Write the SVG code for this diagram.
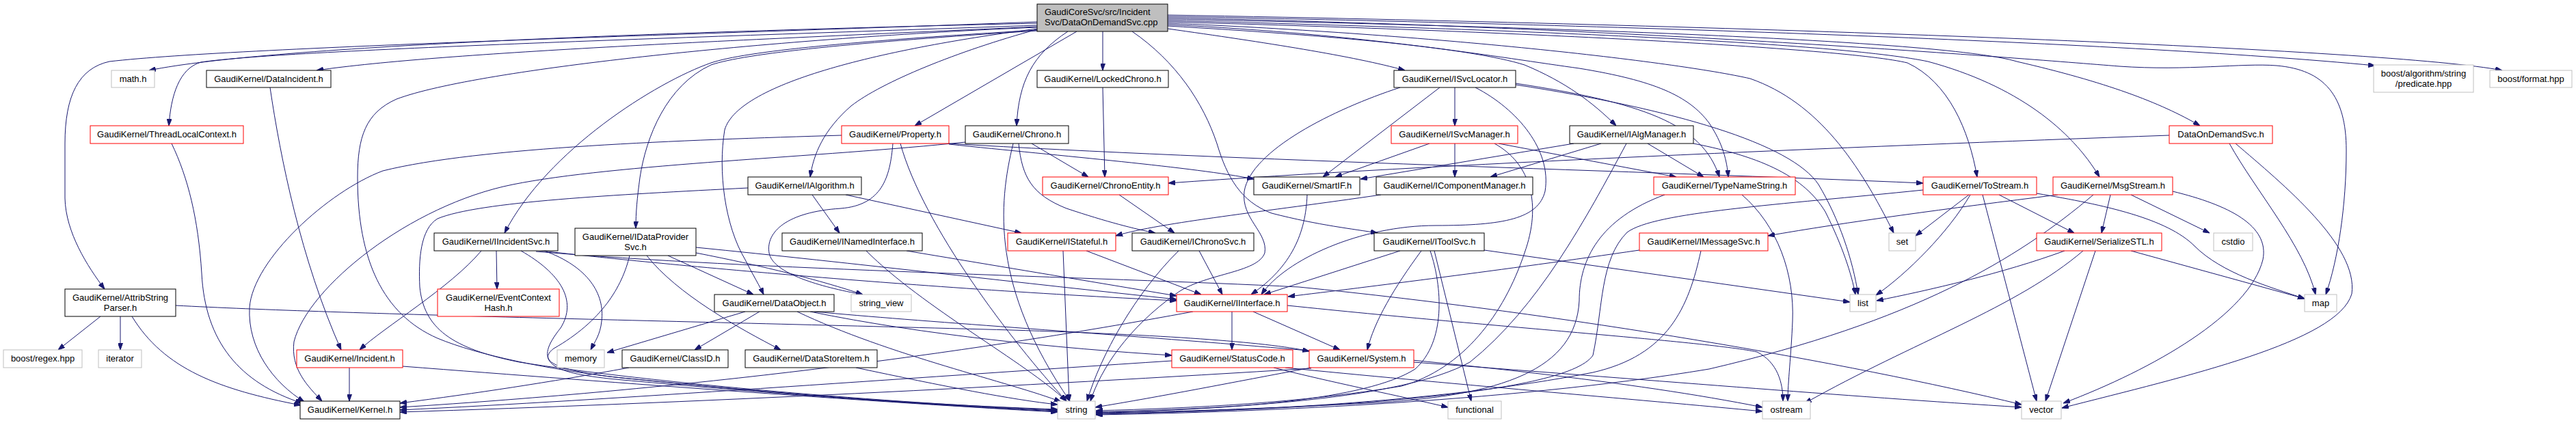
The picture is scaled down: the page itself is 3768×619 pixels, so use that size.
<svg xmlns="http://www.w3.org/2000/svg" width="3768" height="619" viewBox="0 0 3768 619">
<style>
.bg{fill:#ffffff}
.nb{fill:#ffffff;stroke:#000000;stroke-width:1}
.nr{fill:#ffffff;stroke:#ff0000;stroke-width:1}
.ng{fill:#ffffff;stroke:#bfbfbf;stroke-width:1}
.nt{fill:#bfbfbf;stroke:#000000;stroke-width:1}
.t{font-family:"Liberation Sans",Arial,Helvetica,sans-serif;font-size:13px;fill:#000000;text-anchor:middle}
.tl{font-family:"Liberation Sans",Arial,Helvetica,sans-serif;font-size:13px;fill:#000000;text-anchor:start}
.e{fill:none;stroke:#191970;stroke-width:1;marker-end:url(#arr)}
</style>
<defs>
<marker id="arr" viewBox="0 0 10 7" refX="10" refY="3.5" markerWidth="10" markerHeight="7" markerUnits="userSpaceOnUse" orient="auto">
<path d="M0,0 L10,3.5 L0,7 z" fill="#191970" stroke="#191970" stroke-width="1"/>
</marker>
</defs>
<rect class="bg" x="0" y="0" width="3768" height="619"/>
<g id="edges">
<!-- from main file -->
<path class="e" d="M1517,32 C1100,48 350,68 160,90 C115,100 95,140 95,210 L95,290 C96,340 128,390 153,423"/>
<path class="e" d="M1517,34 C1000,46 400,66 218,103"/>
<path class="e" d="M1517,37 C1100,52 420,72 294,91 C262,100 250,140 247,184"/>
<path class="e" d="M1517,39 C1100,58 650,76 463,103"/>
<path class="e" d="M1517,40 C1150,55 700,100 580,145 C535,165 523,200 523,260 C523,380 560,460 640,495 C700,520 800,540 900,552 C1150,578 1350,592 1547,599"/>
<path class="e" d="M1517,44 C1250,60 1090,75 1040,92 C960,120 800,220 738,341"/>
<path class="e" d="M1517,45 C1250,62 1090,78 1040,95 C975,125 945,200 936,260 C932,290 930,310 930,334"/>
<path class="e" d="M1517,42 C1300,70 1080,120 1060,190 C1050,250 1060,330 1090,380 C1100,400 1112,420 1117,431"/>
<path class="e" d="M1517,43 C1400,75 1290,120 1245,155 C1205,190 1190,225 1185,259"/>
<path class="e" d="M1575,46 L1338,184"/>
<path class="e" d="M1562,46 C1510,80 1490,120 1487,184"/>
<path class="e" d="M1613,46 L1613,103"/>
<path class="e" d="M1656,46 C1720,90 1760,150 1780,210 C1795,260 1815,295 1860,312 C1930,330 1980,335 2015,341"/>
<path class="e" d="M1708,42 C1850,62 1980,82 2055,103"/>
<path class="e" d="M1708,38 C1950,52 2150,70 2230,95 C2290,120 2330,150 2364,184"/>
<path class="e" d="M1708,36 C2000,50 2200,85 2310,100 C2420,118 2470,140 2500,180 C2520,210 2526,235 2528,259"/>
<path class="e" d="M1708,34 C2100,50 2450,90 2560,115 C2660,150 2720,240 2770,341"/>
<path class="e" d="M1708,32 C2200,45 2700,70 2790,92 C2850,120 2880,190 2892,259"/>
<path class="e" d="M1708,30 C2300,45 2700,65 2820,90 C2950,125 3030,190 3071,259"/>
<path class="e" d="M1708,28 C2300,40 2850,60 2950,90 C3080,120 3160,150 3218,184"/>
<path class="e" d="M1708,26 C2400,40 2950,85 3100,97 C3200,104 3280,92 3330,96 C3400,102 3432,140 3432,220 C3432,300 3420,380 3402,431"/>
<path class="e" d="M1708,24 C2300,35 3100,60 3474,96"/>
<path class="e" d="M1708,22 C2600,38 3500,72 3660,103"/>
<!-- left part -->
<path class="e" d="M395,128 C410,230 440,380 499,512"/>
<path class="e" d="M251,210 C275,260 290,320 295,400 C300,500 350,560 442,590"/>
<path class="e" d="M193,463 C240,540 320,570 440,593"/>
<path class="e" d="M147,463 L85,512"/>
<path class="e" d="M176,463 L176,512"/>
<path class="e" d="M257,447 C500,460 1000,470 1480,483 C1700,490 1850,500 1915,514"/>
<path class="e" d="M511,538 L511,587"/>
<path class="e" d="M589,536 C900,560 1300,590 1547,603"/>
<path class="e" d="M704,367 C660,420 560,480 526,512"/>
<path class="e" d="M726,367 L727,423"/>
<path class="e" d="M796,367 C860,390 885,430 880,470 C878,490 870,500 864,512"/>
<path class="e" d="M762,367 C820,400 845,440 820,480 C780,530 800,545 900,555 C1150,578 1350,592 1547,601"/>
<path class="e" d="M784,366 C900,380 1300,420 1721,440"/>
<path class="e" d="M784,368 C1100,395 1600,405 1900,420 C2300,460 2700,530 2957,592"/>
<path class="e" d="M977,374 L1102,431"/>
<path class="e" d="M946,374 C990,430 1080,480 1142,512"/>
<path class="e" d="M1018,362 C1250,385 1500,415 1721,438"/>
<path class="e" d="M1018,370 C1120,390 1200,410 1262,431"/>
<path class="e" d="M921,374 C910,420 880,470 810,510 C790,525 800,540 900,552 C1150,577 1350,593 1547,602"/>
<path class="e" d="M1090,456 L888,516"/>
<path class="e" d="M1111,456 L1016,512"/>
<path class="e" d="M1166,456 C1300,520 1480,560 1552,588"/>
<path class="e" d="M1185,456 C1350,490 1550,510 1714,520"/>
<path class="e" d="M1191,456 C1500,485 2200,520 2578,596"/>
<path class="e" d="M1252,538 C1380,565 1480,585 1547,592"/>
<path class="e" d="M920,538 C800,560 700,575 585,590"/>
<!-- Property, Chrono, IAlgorithm -->
<path class="e" d="M1231,198 C1000,205 700,215 560,250 C480,280 370,380 365,450 C362,510 400,560 445,588"/>
<path class="e" d="M1306,210 C1302,260 1290,300 1230,305 C1150,310 1120,340 1125,370 C1130,400 1200,420 1262,431"/>
<path class="e" d="M1317,210 C1350,330 1480,500 1560,587"/>
<path class="e" d="M1388,210 C1800,235 2400,250 2813,268"/>
<path class="e" d="M1388,211 C1550,228 1750,245 1834,262"/>
<path class="e" d="M1412,208 C1200,230 900,240 750,270 C600,300 450,420 430,500 C425,540 450,565 471,587"/>
<path class="e" d="M1509,210 L1592,259"/>
<path class="e" d="M1490,210 C1495,260 1510,285 1560,305 C1620,325 1660,335 1690,341"/>
<path class="e" d="M1482,210 C1460,300 1450,420 1565,587"/>
<path class="e" d="M1613,128 L1616,259"/>
<path class="e" d="M1637,285 L1718,341"/>
<path class="e" d="M3173,198 C2700,215 2100,240 1709,268"/>
<path class="e" d="M1094,275 C900,285 700,295 640,320 C615,335 612,380 614,420 C620,480 660,510 760,530 C950,560 1300,590 1547,600"/>
<path class="e" d="M1188,285 L1228,341"/>
<path class="e" d="M1237,285 L1494,341"/>
<path class="e" d="M1326,367 L1721,433"/>
<path class="e" d="M1267,367 C1350,450 1500,530 1560,587"/>
<path class="e" d="M1589,367 L1757,431"/>
<path class="e" d="M1555,367 L1564,587"/>
<path class="e" d="M1754,367 L1788,431"/>
<path class="e" d="M1724,367 C1660,430 1610,520 1590,587"/>
<path class="e" d="M1912,285 C1910,340 1890,390 1830,431"/>
<!-- ISvcLocator / ISvcManager / IAlgManager -->
<path class="e" d="M2048,128 C1950,160 1830,220 1820,280 C1815,320 1855,340 1850,370 C1840,400 1760,400 1720,430 C1650,480 1610,540 1595,587"/>
<path class="e" d="M2106,128 L1935,259"/>
<path class="e" d="M2128,128 L2128,184"/>
<path class="e" d="M2158,128 C2220,160 2270,220 2260,280 C2250,320 2200,330 2100,330 C1990,330 1880,380 1845,431"/>
<path class="e" d="M2217,122 C2400,150 2490,180 2515,259"/>
<path class="e" d="M2217,124 C2450,160 2620,210 2660,270 C2690,320 2710,380 2718,431"/>
<path class="e" d="M2091,210 L1953,259"/>
<path class="e" d="M2128,210 L2128,259"/>
<path class="e" d="M2192,210 L2452,259"/>
<path class="e" d="M2186,210 C2240,240 2255,300 2230,370 C2200,460 2140,540 2050,565 C1900,590 1750,597 1603,601"/>
<path class="e" d="M2302,210 L1990,262"/>
<path class="e" d="M2342,210 L2180,259"/>
<path class="e" d="M2410,210 L2492,259"/>
<path class="e" d="M2477,210 C2580,230 2640,260 2670,310 C2695,360 2708,400 2714,431"/>
<path class="e" d="M2379,210 C2320,320 2250,450 2150,530 C2050,585 1800,598 1603,603"/>
<path class="e" d="M2020,285 C1850,310 1700,325 1632,345"/>
<path class="e" d="M2435,285 C2340,320 2310,380 2310,440 C2305,540 2200,580 2000,590 C1850,598 1700,603 1603,604"/>
<path class="e" d="M2548,285 C2600,330 2625,400 2622,470 C2620,520 2615,560 2615,587"/>
<!-- IToolSvc / IMessageSvc -->
<path class="e" d="M2079,367 C2040,420 2010,470 2000,512"/>
<path class="e" d="M2098,367 L2152,587"/>
<path class="e" d="M2092,367 C2110,420 2115,500 2070,540 C2000,585 1800,600 1603,603"/>
<path class="e" d="M2171,366 L2706,442"/>
<path class="e" d="M2048,367 L1849,431"/>
<path class="e" d="M2398,366 C2200,395 2000,420 1884,434"/>
<path class="e" d="M2488,367 C2470,450 2440,520 2330,545 C2100,590 1800,603 1603,605"/>
<!-- ToStream / MsgStream / SerializeSTL -->
<path class="e" d="M2880,285 L2802,345"/>
<path class="e" d="M2882,285 C2850,340 2790,400 2744,432"/>
<path class="e" d="M2813,278 C2600,300 2420,310 2380,340 C2340,380 2345,450 2330,520 C2290,580 1900,600 1603,606"/>
<path class="e" d="M2924,285 L3034,341"/>
<path class="e" d="M2900,285 L2979,587"/>
<path class="e" d="M2979,283 C3080,300 3170,320 3210,360 C3250,400 3320,420 3371,437"/>
<path class="e" d="M3010,285 C2850,305 2700,325 2586,345"/>
<path class="e" d="M3087,285 L3074,341"/>
<path class="e" d="M3117,285 L3232,341"/>
<path class="e" d="M3062,285 C2950,380 2800,470 2500,540 C2200,590 1800,604 1603,607"/>
<path class="e" d="M3178,280 C3260,300 3320,330 3310,380 C3290,460 3150,540 3018,590"/>
<path class="e" d="M3261,210 C3300,280 3370,360 3387,431"/>
<path class="e" d="M3270,210 C3340,270 3450,360 3440,430 C3420,500 3200,550 3016,597"/>
<path class="e" d="M3020,367 C2930,400 2820,425 2745,440"/>
<path class="e" d="M3047,367 C2950,450 2800,500 2640,590"/>
<path class="e" d="M3065,367 L2992,587"/>
<path class="e" d="M3117,367 L3371,437"/>
<!-- IInterface / StatusCode / System -->
<path class="e" d="M1745,456 C1400,520 1000,570 585,596"/>
<path class="e" d="M1802,456 L1802,512"/>
<path class="e" d="M1833,456 L1960,512"/>
<path class="e" d="M1883,447 C2200,480 2500,500 2570,515 C2600,530 2608,560 2608,587"/>
<path class="e" d="M1714,528 C1300,555 900,585 585,600"/>
<path class="e" d="M1863,538 C1950,560 2050,580 2118,596"/>
<path class="e" d="M1880,538 C2100,560 2400,585 2578,602"/>
<path class="e" d="M1918,538 C1800,560 1700,580 1602,596"/>
<path class="e" d="M1918,539 C1500,565 1000,590 585,603"/>
<path class="e" d="M2068,530 C2400,555 2700,580 2957,596"/>
</g>
<g id="n_main"><rect class="nt" x="1517" y="6" width="191" height="40"/><text class="tl" x="1528" y="22">GaudiCoreSvc/src/Incident</text><text class="tl" x="1528" y="37">Svc/DataOnDemandSvc.cpp</text></g>
<g id="n_math"><rect class="ng" x="163" y="103" width="63" height="25"/><text class="t" x="194.5" y="120">math.h</text></g>
<g id="n_dataincident"><rect class="nb" x="302" y="103" width="182" height="25"/><text class="t" x="393" y="120">GaudiKernel/DataIncident.h</text></g>
<g id="n_tlc"><rect class="nr" x="132" y="184" width="224" height="26"/><text class="t" x="244" y="201">GaudiKernel/ThreadLocalContext.h</text></g>
<g id="n_attrib"><rect class="nb" x="95" y="423" width="162" height="40"/><text class="t" x="176" y="439.5">GaudiKernel/AttribString</text><text class="t" x="176" y="454.5">Parser.h</text></g>
<g id="n_iincidentsvc"><rect class="nb" x="635" y="341" width="181" height="26"/><text class="t" x="725.5" y="358">GaudiKernel/IIncidentSvc.h</text></g>
<g id="n_ech"><rect class="nr" x="640" y="423" width="178" height="40"/><text class="t" x="729" y="439.5">GaudiKernel/EventContext</text><text class="t" x="729" y="454.5">Hash.h</text></g>
<g id="n_regex"><rect class="ng" x="5" y="512" width="115" height="26"/><text class="t" x="62.5" y="529">boost/regex.hpp</text></g>
<g id="n_iterator"><rect class="ng" x="144" y="512" width="63" height="26"/><text class="t" x="175.5" y="529">iterator</text></g>
<g id="n_incident"><rect class="nr" x="434" y="512" width="155" height="26"/><text class="t" x="511.5" y="529">GaudiKernel/Incident.h</text></g>
<g id="n_memory"><rect class="ng" x="815" y="512" width="69" height="26"/><text class="t" x="849.5" y="529">memory</text></g>
<g id="n_classid"><rect class="nb" x="910" y="512" width="155" height="26"/><text class="t" x="987.5" y="529">GaudiKernel/ClassID.h</text></g>
<g id="n_kernel"><rect class="nb" x="439" y="587" width="146" height="26"/><text class="t" x="512" y="604">GaudiKernel/Kernel.h</text></g>
<g id="n_idataprov"><rect class="nb" x="841" y="334" width="177" height="40"/><text class="t" x="929.5" y="350.5">GaudiKernel/IDataProvider</text><text class="t" x="929.5" y="365.5">Svc.h</text></g>
<g id="n_lockedchrono"><rect class="nb" x="1517" y="103" width="192" height="25"/><text class="t" x="1613" y="120">GaudiKernel/LockedChrono.h</text></g>
<g id="n_property"><rect class="nr" x="1231" y="184" width="157" height="26"/><text class="t" x="1309.5" y="201">GaudiKernel/Property.h</text></g>
<g id="n_chrono"><rect class="nb" x="1412" y="184" width="151" height="26"/><text class="t" x="1487.5" y="201">GaudiKernel/Chrono.h</text></g>
<g id="n_ialgorithm"><rect class="nb" x="1094" y="259" width="166" height="26"/><text class="t" x="1177" y="276">GaudiKernel/IAlgorithm.h</text></g>
<g id="n_chronoentity"><rect class="nr" x="1525" y="259" width="184" height="26"/><text class="t" x="1617" y="276">GaudiKernel/ChronoEntity.h</text></g>
<g id="n_smartif"><rect class="nb" x="1834" y="259" width="155" height="26"/><text class="t" x="1911.5" y="276">GaudiKernel/SmartIF.h</text></g>
<g id="n_inamed"><rect class="nb" x="1144" y="341" width="205" height="26"/><text class="t" x="1246.5" y="358">GaudiKernel/INamedInterface.h</text></g>
<g id="n_istateful"><rect class="nr" x="1474" y="341" width="158" height="26"/><text class="t" x="1553" y="358">GaudiKernel/IStateful.h</text></g>
<g id="n_ichronosvc"><rect class="nb" x="1656" y="341" width="178" height="26"/><text class="t" x="1745" y="358">GaudiKernel/IChronoSvc.h</text></g>
<g id="n_dataobject"><rect class="nb" x="1045" y="431" width="175" height="25"/><text class="t" x="1132.5" y="448">GaudiKernel/DataObject.h</text></g>
<g id="n_stringview"><rect class="ng" x="1245" y="431" width="88" height="25"/><text class="t" x="1289" y="448">string_view</text></g>
<g id="n_iinterface"><rect class="nr" x="1721" y="431" width="162" height="25"/><text class="t" x="1802" y="448">GaudiKernel/IInterface.h</text></g>
<g id="n_datastoreitem"><rect class="nb" x="1090" y="512" width="193" height="26"/><text class="t" x="1186.5" y="529">GaudiKernel/DataStoreItem.h</text></g>
<g id="n_statuscode"><rect class="nr" x="1714" y="512" width="177" height="26"/><text class="t" x="1802.5" y="529">GaudiKernel/StatusCode.h</text></g>
<g id="n_string"><rect class="ng" x="1547" y="587" width="55" height="26"/><text class="t" x="1574.5" y="604">string</text></g>
<g id="n_isvclocator"><rect class="nb" x="2039" y="103" width="178" height="25"/><text class="t" x="2128" y="120">GaudiKernel/ISvcLocator.h</text></g>
<g id="n_isvcmanager"><rect class="nr" x="2035" y="184" width="185" height="26"/><text class="t" x="2127.5" y="201">GaudiKernel/ISvcManager.h</text></g>
<g id="n_ialgmanager"><rect class="nb" x="2296" y="184" width="181" height="26"/><text class="t" x="2386.5" y="201">GaudiKernel/IAlgManager.h</text></g>
<g id="n_icompmgr"><rect class="nb" x="2013" y="259" width="229" height="26"/><text class="t" x="2127.5" y="276">GaudiKernel/IComponentManager.h</text></g>
<g id="n_typename"><rect class="nr" x="2419" y="259" width="207" height="26"/><text class="t" x="2522.5" y="276">GaudiKernel/TypeNameString.h</text></g>
<g id="n_itoolsvc"><rect class="nb" x="2010" y="341" width="161" height="26"/><text class="t" x="2090.5" y="358">GaudiKernel/IToolSvc.h</text></g>
<g id="n_imessagesvc"><rect class="nr" x="2398" y="341" width="188" height="26"/><text class="t" x="2492" y="358">GaudiKernel/IMessageSvc.h</text></g>
<g id="n_set"><rect class="ng" x="2763" y="341" width="39" height="26"/><text class="t" x="2782.5" y="358">set</text></g>
<g id="n_list"><rect class="ng" x="2706" y="431" width="38" height="25"/><text class="t" x="2725" y="448">list</text></g>
<g id="n_system"><rect class="nr" x="1915" y="512" width="153" height="26"/><text class="t" x="1991.5" y="529">GaudiKernel/System.h</text></g>
<g id="n_functional"><rect class="ng" x="2118" y="587" width="78" height="26"/><text class="t" x="2157" y="604">functional</text></g>
<g id="n_ostream"><rect class="ng" x="2578" y="587" width="70" height="26"/><text class="t" x="2613" y="604">ostream</text></g>
<g id="n_predicate"><rect class="ng" x="3472" y="95" width="146" height="40"/><text class="t" x="3545" y="111.5">boost/algorithm/string</text><text class="t" x="3545" y="126.5">/predicate.hpp</text></g>
<g id="n_format"><rect class="ng" x="3642" y="103" width="120" height="25"/><text class="t" x="3702" y="120">boost/format.hpp</text></g>
<g id="n_dodsvc"><rect class="nr" x="3173" y="184" width="151" height="26"/><text class="t" x="3248.5" y="201">DataOnDemandSvc.h</text></g>
<g id="n_tostream"><rect class="nr" x="2813" y="259" width="166" height="26"/><text class="t" x="2896" y="276">GaudiKernel/ToStream.h</text></g>
<g id="n_msgstream"><rect class="nr" x="3003" y="259" width="175" height="26"/><text class="t" x="3090.5" y="276">GaudiKernel/MsgStream.h</text></g>
<g id="n_serializestl"><rect class="nr" x="2979" y="341" width="183" height="26"/><text class="t" x="3070.5" y="358">GaudiKernel/SerializeSTL.h</text></g>
<g id="n_cstdio"><rect class="ng" x="3238" y="341" width="57" height="26"/><text class="t" x="3266.5" y="358">cstdio</text></g>
<g id="n_map"><rect class="ng" x="3371" y="431" width="47" height="25"/><text class="t" x="3394.5" y="448">map</text></g>
<g id="n_vector"><rect class="ng" x="2957" y="587" width="58" height="26"/><text class="t" x="2986" y="604">vector</text></g>
</svg>
